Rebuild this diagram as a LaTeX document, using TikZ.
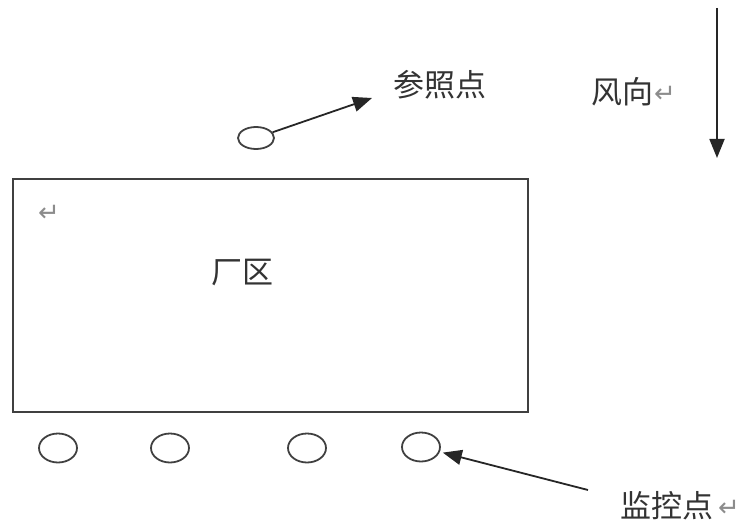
\documentclass[tikz,border=0pt]{standalone}
\usepackage{fontspec}
\setmainfont{Noto Sans CJK SC}
\newfontfamily\symfont{DejaVu Sans}
\usetikzlibrary{shapes.geometric,arrows.meta}
\definecolor{linegray}{gray}{0.25}
\definecolor{textgray}{gray}{0.2}
\definecolor{markgray}{gray}{0.55}
\tikzset{
  lbl/.style={inner sep=0pt, text=textgray, font=\fontsize{31}{31}\selectfont},
  retmark/.style={inner sep=0pt, text=markgray, font=\symfont\fontsize{26}{26}\selectfont},
  pt/.style={draw=linegray, line width=1.8pt, ellipse, inner sep=0pt, minimum width=38pt, minimum height=29pt},
  plantbox/.style={draw=linegray, line width=2pt, rectangle, inner sep=0pt},
  arr/.style={draw=black!85, line width=1.8pt, -{Triangle[length=19pt,width=15pt]}}
}
\begin{document}
\begin{tikzpicture}[x=1pt,y=-1pt]
\useasboundingbox (0,0) rectangle (745,524);
% plant area
\node[plantbox, minimum width=515pt, minimum height=233pt] (plant) at (270.5,295.5) {};
\node[retmark] (ret1) at (49,213) {↵};
\node[lbl] (plantlbl) at (242,273) {厂区};
% reference point
\node[pt, minimum width=36pt, minimum height=22pt] (ref) at (256,138) {};
\node[lbl, anchor=west] (reflbl) at (393,85) {参照点};
\coordinate (reftip) at (372,98);
\draw[arr] (ref) -- (reftip);
% wind direction
\node[lbl, anchor=west] (windlbl) at (591,92) {风向};
\node[retmark, anchor=west] (ret2) at (654,94) {↵};
\coordinate (windtop) at (717,8);
\coordinate (windtip) at (717,158);
\draw[arr] (windtop) -- (windtip);
% monitoring points
\node[pt] (m1) at (58,448) {};
\node[pt] (m2) at (170,448) {};
\node[pt] (m3) at (307,448) {};
\node[pt] (m4) at (421,447) {};
\node[lbl, anchor=west] (monlbl) at (620,506) {监控点};
\node[retmark, anchor=west] (ret3) at (718,508) {↵};
\coordinate (montail) at (588,490);
\draw[arr, shorten >=3pt] (montail) -- (m4);
\end{tikzpicture}
\end{document}
